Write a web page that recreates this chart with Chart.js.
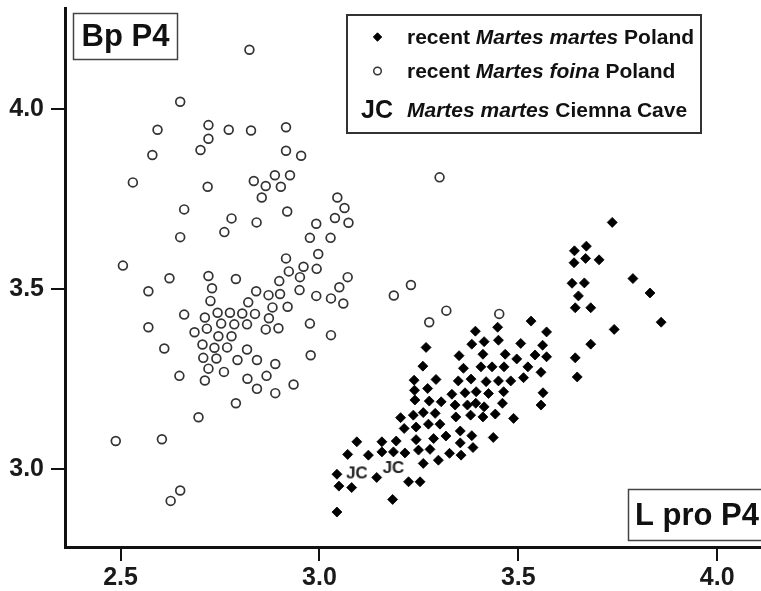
<!DOCTYPE html>
<html>
<head>
<meta charset="utf-8">
<script src="https://cdn.jsdelivr.net/npm/chart.js@4.4.1/dist/chart.umd.min.js"></script>
<style>
    html, body { margin: 0; padding: 0; background: #fff; }
    #wrap { width: 761px; height: 591px; }
</style>
</head>
<body>
<div id="wrap"><canvas id="scatterChart" width="761" height="591"></canvas></div>
<script>

// axis ticks
const xTicks = [2.5, 3.0, 3.5, 4.0];
const yTicks = [3.0, 3.5, 4.0];

// recent Martes martes, Poland (filled diamonds)
const martesX = [
    3.736, 3.641, 3.671, 3.669, 3.703, 3.640, 3.635, 3.666, 3.651, 3.643, 3.682, 3.788, 3.831, 3.859, 3.741, 3.682, 3.643, 3.648,
    3.532, 3.571, 3.448, 3.392, 3.450, 3.414, 3.383, 3.506, 3.561, 3.411, 3.467, 3.542, 3.571, 3.496, 3.406, 3.434, 3.464, 3.524,
    3.557, 3.381, 3.419, 3.450, 3.481, 3.513, 3.394, 3.425, 3.463, 3.562, 3.393, 3.414, 3.460, 3.557, 3.411, 3.442, 3.488,
    3.268, 3.351, 3.260, 3.362, 3.238, 3.293, 3.349, 3.239, 3.272, 3.333, 3.366, 3.240, 3.276, 3.306, 3.341, 3.372, 3.261,
    3.291, 3.236, 3.204, 3.343, 3.380, 3.213, 3.243, 3.274, 3.303, 3.354, 3.383, 3.437, 3.193, 3.243, 3.287, 3.318, 3.354,
    3.157, 3.157, 3.186, 3.215, 3.249, 3.278, 3.327, 3.356, 3.386, 3.299, 3.261, 3.224, 3.253, 3.184, 3.094, 3.071, 3.123,
    3.044, 3.144, 3.049, 3.081, 3.044
];
const martesY = [
    3.685, 3.606, 3.619, 3.585, 3.581, 3.573, 3.516, 3.517, 3.481, 3.448, 3.448, 3.529, 3.489, 3.408, 3.388, 3.347, 3.309, 3.256,
    3.411, 3.381, 3.394, 3.383, 3.358, 3.354, 3.347, 3.349, 3.344, 3.319, 3.319, 3.317, 3.312, 3.306, 3.284, 3.284, 3.284, 3.284,
    3.269, 3.250, 3.243, 3.245, 3.245, 3.254, 3.215, 3.210, 3.215, 3.212, 3.183, 3.173, 3.183, 3.178, 3.145, 3.153, 3.141,
    3.338, 3.315, 3.286, 3.280, 3.247, 3.249, 3.245, 3.219, 3.224, 3.208, 3.212, 3.192, 3.189, 3.187, 3.178, 3.178, 3.157,
    3.155, 3.150, 3.143, 3.145, 3.150, 3.113, 3.117, 3.125, 3.125, 3.106, 3.093, 3.088, 3.078, 3.082, 3.085, 3.092, 3.073,
    3.076, 3.048, 3.048, 3.045, 3.053, 3.055, 3.044, 3.039, 3.060, 3.025, 3.016, 2.965, 2.965, 2.916, 3.076, 3.041, 3.039,
    2.986, 2.977, 2.953, 2.949, 2.881
];

// recent Martes foina, Poland (open circles)
const foinaX = [
    2.824, 2.650, 2.593, 2.721, 2.721, 2.701, 2.772, 2.828, 2.916, 2.916, 2.580, 2.531, 2.719, 2.835, 2.865, 2.888, 2.903, 2.926,
    2.855, 2.660, 2.919, 2.779, 2.842, 2.761, 2.650, 2.916, 2.954, 3.045, 3.063, 3.039, 3.073, 2.992, 2.976, 3.028, 2.997, 2.923,
    2.960, 2.993, 2.951, 2.899, 3.071, 3.050, 2.506, 2.623, 2.721, 2.790, 2.570, 2.730, 2.841, 2.872, 2.901, 2.950, 2.992, 3.029,
    2.726, 2.821, 2.882, 2.920, 2.660, 2.712, 2.744, 2.775, 2.806, 2.838, 2.873, 2.570, 2.686, 2.717, 2.753, 2.786, 2.818, 2.865,
    2.897, 2.746, 2.779, 2.610, 2.706, 2.736, 2.768, 2.818, 2.708, 2.741, 2.794, 2.843, 2.889, 2.721, 2.760, 2.648, 2.712, 2.819,
    2.867, 2.843, 2.889, 2.935, 2.790, 2.696, 2.488, 2.604, 2.650, 2.626, 3.302, 3.230, 3.187, 3.319, 3.276, 2.976, 3.029, 2.978,
    3.060, 3.452
];
const foinaY = [
    4.164, 4.020, 3.942, 3.955, 3.917, 3.886, 3.942, 3.940, 3.949, 3.884, 3.872, 3.796, 3.784, 3.800, 3.786, 3.816, 3.784, 3.816,
    3.754, 3.721, 3.715, 3.696, 3.685, 3.658, 3.644, 3.585, 3.870, 3.754, 3.725, 3.697, 3.684, 3.681, 3.642, 3.642, 3.597, 3.549,
    3.562, 3.556, 3.533, 3.522, 3.533, 3.505, 3.565, 3.530, 3.536, 3.528, 3.494, 3.502, 3.494, 3.483, 3.486, 3.497, 3.481, 3.474,
    3.467, 3.463, 3.449, 3.451, 3.429, 3.421, 3.434, 3.434, 3.432, 3.431, 3.419, 3.394, 3.380, 3.390, 3.404, 3.402, 3.402, 3.388,
    3.391, 3.369, 3.369, 3.335, 3.346, 3.337, 3.338, 3.332, 3.309, 3.307, 3.303, 3.303, 3.292, 3.279, 3.270, 3.259, 3.246, 3.251,
    3.259, 3.223, 3.211, 3.235, 3.183, 3.144, 3.078, 3.083, 2.941, 2.912, 3.810, 3.511, 3.482, 3.440, 3.408, 3.404, 3.372, 3.316,
    3.460, 3.431
];

// Martes martes, Ciemna Cave (plotted as "JC")
const caveX = [3.094, 3.186];
const caveY = [2.991, 3.006];

// legend text: plain / italic / plain
const legendParts = [
    ["recent ", "Martes martes", " Poland"],
    ["recent ", "Martes foina", " Poland"],
    ["", "Martes martes", " Ciemna Cave"]
];

const fontFamily = "'Liberation Sans', Arial, Helvetica, sans-serif";

function toPoints(xs, ys) {
    return xs.map(function (x, i) {
        return { x: x, y: ys[i] };
    });
}

// "JC" marker image
const jcMark = document.createElement("canvas");
jcMark.width = 28;
jcMark.height = 20;
const jctx = jcMark.getContext("2d");
jctx.font = "bold 17px " + fontFamily;
jctx.fillStyle = "#222";
jctx.textAlign = "center";
jctx.textBaseline = "middle";
jctx.fillText("JC", 14, 11);

// boxed labels and the legend
const annotations = {
    id: "annotations",
    afterDraw: function (chart) {
        const ctx = chart.ctx;
        ctx.save();

        // axis name boxes
        ctx.lineWidth = 1.5;
        ctx.strokeStyle = "#444";
        ctx.fillStyle = "#111";
        ctx.font = "bold 31px " + fontFamily;
        ctx.textBaseline = "middle";

        ctx.strokeRect(73.5, 13.5, 104, 46);
        ctx.textAlign = "center";
        ctx.fillText("Bp P4", 125.5, 37);

        ctx.fillStyle = "#fff";
        ctx.fillRect(628, 489, 140, 52);
        ctx.strokeRect(628.5, 489.5, 140, 51);
        ctx.fillStyle = "#111";
        ctx.textAlign = "left";
        ctx.fillText("L pro P4", 635, 516);

        // legend
        ctx.lineWidth = 2;
        ctx.strokeStyle = "#333";
        ctx.strokeRect(347, 15, 354, 118);

        const rows = [37, 71, 110];

        ctx.fillStyle = "#000";
        ctx.strokeStyle = "#000";
        ctx.lineWidth = 1;
        Chart.helpers.drawPoint(ctx, { pointStyle: "rectRot", radius: 4.2, rotation: 0, borderWidth: 1 }, 377.5, rows[0]);

        ctx.fillStyle = "rgba(0,0,0,0)";
        ctx.strokeStyle = "#333";
        ctx.lineWidth = 1.5;
        Chart.helpers.drawPoint(ctx, { pointStyle: "circle", radius: 3.8, rotation: 0, borderWidth: 1.5 }, 377.5, rows[1]);

        ctx.fillStyle = "#111";
        ctx.font = "bold 25px " + fontFamily;
        ctx.textAlign = "center";
        ctx.fillText("JC", 377, rows[2] + 1);

        ctx.textAlign = "left";
        legendParts.forEach(function (parts, i) {
            let x = 407;
            parts.forEach(function (text, j) {
                ctx.font = (j === 1 ? "italic bold 21px " : "bold 21px ") + fontFamily;
                ctx.fillText(text, x, rows[i] + 1);
                x += ctx.measureText(text).width;
            });
        });

        ctx.restore();
    }
};

document.addEventListener("DOMContentLoaded", function () {

    const scatterChart = document.getElementById("scatterChart");

    if (scatterChart) {

        new Chart(scatterChart, {

            type: "scatter",

            data: {
                datasets: [
                    {
                        label: legendParts[1].join(""),
                        data: toPoints(foinaX, foinaY),
                        pointStyle: "circle",
                        pointRadius: 4.4,
                        borderWidth: 1.7,
                        borderColor: "#333",
                        backgroundColor: "rgba(0,0,0,0)"
                    },
                    {
                        label: legendParts[0].join(""),
                        data: toPoints(martesX, martesY),
                        pointStyle: "rectRot",
                        pointRadius: 5,
                        borderWidth: 0.8,
                        borderColor: "#000",
                        backgroundColor: "#000"
                    },
                    {
                        label: legendParts[2].join(""),
                        data: toPoints(caveX, caveY),
                        pointStyle: jcMark,
                        pointRadius: 8
                    }
                ]
            },

            options: {
                responsive: false,
                devicePixelRatio: 1,
                animation: false,
                layout: {
                    autoPadding: false,
                    padding: { top: 8, right: 0, left: 0, bottom: 0 }
                },
                plugins: {
                    legend: { display: false },
                    tooltip: { enabled: false }
                },
                scales: {
                    x: {
                        type: "linear",
                        min: 2.3604,
                        max: 4.11,
                        afterBuildTicks: function (scale) {
                            scale.ticks = xTicks.map(function (v) { return { value: v }; });
                        },
                        afterFit: function (scale) {
                            scale.height = 44;
                            scale.paddingLeft = 0;
                            scale.paddingRight = 0;
                        },
                        border: { display: true, color: "#111", width: 3 },
                        grid: { display: true, drawOnChartArea: false, drawTicks: true, tickLength: 14, color: "#111", lineWidth: 2 },
                        ticks: {
                            padding: 2,
                            color: "#1a1a1a",
                            font: { family: fontFamily, size: 25, weight: "bold" },
                            callback: function (v) { return v.toFixed(1); }
                        }
                    },
                    y: {
                        type: "linear",
                        min: 2.784,
                        max: 4.28,
                        afterBuildTicks: function (scale) {
                            scale.ticks = yTicks.map(function (v) { return { value: v }; });
                        },
                        afterFit: function (scale) {
                            scale.width = 65;
                            scale.paddingTop = 0;
                            scale.paddingBottom = 0;
                        },
                        border: { display: true, color: "#111", width: 3 },
                        grid: { display: true, drawOnChartArea: false, drawTicks: true, tickLength: 14, color: "#111", lineWidth: 2 },
                        ticks: {
                            padding: 7,
                            color: "#1a1a1a",
                            font: { family: fontFamily, size: 25, weight: "bold" },
                            callback: function (v) { return v.toFixed(1); }
                        }
                    }
                }
            },

            plugins: [annotations]

        });

    }

});
</script>
</body>
</html>
